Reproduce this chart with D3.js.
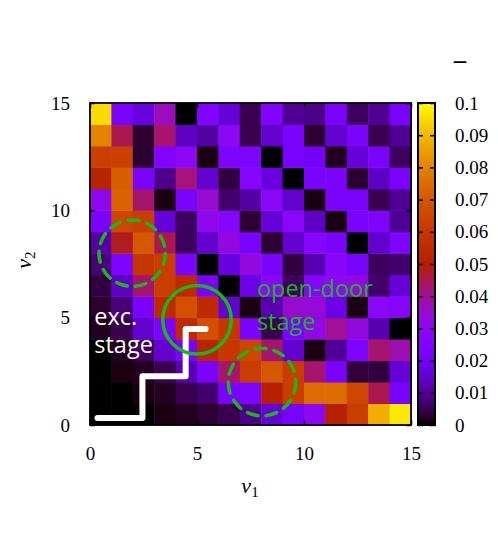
<!DOCTYPE html>
<html lang="en">
<head>
<meta charset="UTF-8">
<title>heatmap</title>
<script src="https://d3js.org/d3.v7.min.js"></script>
<style>
  body { margin: 0; background: #fff; }
  .tick text { font-family: "Liberation Serif", serif; font-size: 19px; fill: #000; }
</style>
</head>
<body>
<div id="chart"></div>
<script>
// grid values, one row per nu2 (bottom row first), one column per nu1
var nu1 = d3.range(15);
var nu2 = d3.range(15);
var density = [
  [0.000,0.000,0.000,0.001,0.002,0.003,0.005,0.009,0.016,0.022,0.030,0.050,0.062,0.088,0.097],
  [0.000,0.000,0.001,0.002,0.005,0.007,0.023,0.024,0.050,0.062,0.075,0.075,0.065,0.045,0.023],
  [0.000,0.001,0.002,0.005,0.012,0.023,0.043,0.062,0.070,0.062,0.043,0.023,0.004,0.004,0.016],
  [0.000,0.002,0.006,0.015,0.023,0.052,0.060,0.065,0.043,0.015,0.001,0.010,0.024,0.043,0.038],
  [0.002,0.005,0.015,0.023,0.055,0.068,0.060,0.023,0.005,0.023,0.032,0.040,0.033,0.012,0.000],
  [0.003,0.008,0.023,0.055,0.068,0.055,0.015,0.001,0.012,0.035,0.034,0.018,0.001,0.029,0.027],
  [0.004,0.014,0.043,0.062,0.055,0.023,0.000,0.018,0.029,0.006,0.027,0.030,0.033,0.007,0.016],
  [0.008,0.024,0.060,0.062,0.023,0.000,0.017,0.033,0.023,0.004,0.012,0.028,0.023,0.006,0.007],
  [0.011,0.048,0.070,0.045,0.006,0.015,0.033,0.023,0.003,0.015,0.027,0.023,0.000,0.015,0.024],
  [0.023,0.065,0.062,0.016,0.006,0.031,0.027,0.003,0.016,0.029,0.014,0.001,0.023,0.024,0.010],
  [0.031,0.073,0.043,0.001,0.023,0.035,0.007,0.011,0.029,0.015,0.001,0.023,0.023,0.005,0.010],
  [0.052,0.072,0.023,0.009,0.042,0.015,0.004,0.027,0.017,0.000,0.023,0.023,0.003,0.014,0.023],
  [0.063,0.063,0.003,0.025,0.030,0.001,0.024,0.024,0.000,0.023,0.021,0.002,0.016,0.023,0.006],
  [0.080,0.045,0.003,0.043,0.014,0.011,0.030,0.005,0.015,0.023,0.003,0.015,0.023,0.005,0.010],
  [0.095,0.023,0.017,0.037,0.000,0.025,0.016,0.005,0.025,0.010,0.009,0.023,0.006,0.010,0.023]
];
var axisTicks = [0, 5, 10, 15];
var cbTicks = d3.range(0, 0.1001, 0.01);

// annotations (data coordinates)
var stairs = [[0.35,0.33],[2.45,0.33],[2.45,2.27],[4.47,2.27],[4.47,4.47],[5.4,4.47]];
var circles = [
  {cx: 5, cy: 4.9, r: 1.6, dashed: false},
  {cx: 1.97, cy: 8.0, r: 1.55, dashed: true},
  {cx: 8.04, cy: 2.0, r: 1.58, dashed: true}
];
var labels = [
  {text: "exc.", x: 0.2, y: 4.67, color: "#fff"},
  {text: "stage", x: 0.2, y: 3.36, color: "#fff"},
  {text: "open-door", x: 7.8, y: 5.98, color: "#18b818"},
  {text: "stage", x: 7.8, y: 4.44, color: "#18b818"}
];

var W = 498, H = 550;
var svg = d3.select("#chart").append("svg")
    .attr("width", W).attr("height", H);

var x = d3.scaleLinear().domain([0, 15]).range([90, 411]);
var y = d3.scaleLinear().domain([0, 15]).range([425, 103]);

// gnuplot default palette (rgbformulae 7,5,15)
function pal(t) {
  t = Math.max(0, Math.min(1, t));
  var r = Math.sqrt(t), g = t * t * t, b = Math.max(0, Math.sin(2 * Math.PI * t));
  return d3.rgb(255 * r, 255 * g, 255 * b).toString();
}
var color = d3.scaleSequential(pal).domain([0, 0.1]);

var cells = [];
density.forEach(function(row, j) {
  row.forEach(function(v, i) { cells.push({i: nu1[i], j: nu2[j], v: v}); });
});

svg.append("g").selectAll("rect")
  .data(cells)
  .enter().append("rect")
    .attr("x", d => x(d.i))
    .attr("y", d => y(d.j + 1))
    .attr("width", x(1) - x(0) + 0.5)
    .attr("height", y(0) - y(1) + 0.5)
    .attr("fill", d => color(d.v));

// axes with inward ticks
svg.append("g").attr("transform", "translate(0,425)")
  .call(d3.axisBottom(x).tickValues(axisTicks).tickSize(-5).tickPadding(22));
svg.append("g").attr("transform", "translate(0,103)")
  .call(d3.axisTop(x).tickValues(axisTicks).tickSize(-5).tickFormat(""));
svg.append("g").attr("transform", "translate(90,0)")
  .call(d3.axisLeft(y).tickValues(axisTicks).tickSize(-5).tickPadding(20));
svg.append("g").attr("transform", "translate(411,0)")
  .call(d3.axisRight(y).tickValues(axisTicks).tickSize(-5).tickFormat(""));

svg.append("rect")
  .attr("x", 90).attr("y", 103).attr("width", 321).attr("height", 322)
  .attr("fill", "none").attr("stroke", "#000").attr("stroke-width", 1.8);

// annotations
var line = d3.line().x(d => x(d[0])).y(d => y(d[1]));
svg.append("path")
  .datum(stairs)
  .attr("d", line)
  .attr("fill", "none")
  .attr("stroke", "#fff")
  .attr("stroke-width", 6)
  .attr("stroke-linecap", "round")
  .attr("stroke-linejoin", "round");

svg.append("g").selectAll("circle")
  .data(circles)
  .enter().append("circle")
    .attr("cx", d => x(d.cx))
    .attr("cy", d => y(d.cy))
    .attr("r", d => x(d.r) - x(0))
    .attr("fill", "none")
    .attr("stroke", "#18b818")
    .attr("stroke-width", 3.5)
    .attr("stroke-dasharray", d => d.dashed ? "11,8" : null)
    .attr("stroke-linecap", "round");

svg.append("g").selectAll("text")
  .data(labels)
  .enter().append("text")
    .attr("x", d => x(d.x))
    .attr("y", d => y(d.y))
    .attr("fill", d => d.color)
    .style("font-family", "'Open Sans', sans-serif")
    .style("font-size", "23.5px")
    .text(d => d.text);

// colorbar
var cb = d3.scaleLinear().domain([0, 0.1]).range([425, 103]);
var grad = svg.append("defs").append("linearGradient")
  .attr("id", "cbgrad")
  .attr("x1", 0).attr("y1", 1).attr("x2", 0).attr("y2", 0);
grad.selectAll("stop")
  .data(d3.range(0, 1.0001, 0.02))
  .enter().append("stop")
    .attr("offset", d => d)
    .attr("stop-color", d => pal(d));

svg.append("rect")
  .attr("x", 418).attr("y", 103).attr("width", 17).attr("height", 322)
  .attr("fill", "url(#cbgrad)")
  .attr("stroke", "#000").attr("stroke-width", 2);

svg.append("g").attr("transform", "translate(435,0)")
  .call(d3.axisRight(cb).tickValues(cbTicks).tickSize(-5).tickPadding(20)
    .tickFormat(d => String(+d.toFixed(2))));
svg.append("g").attr("transform", "translate(418,0)")
  .call(d3.axisLeft(cb).tickValues(cbTicks).tickSize(-5).tickFormat(""));
svg.selectAll(".domain").remove();
svg.selectAll(".tick line").attr("stroke", "#000").attr("stroke-width", 1.5);

svg.append("text")
  .attr("x", 460).attr("y", 66)
  .attr("text-anchor", "middle")
  .style("font-family", "'DejaVu Sans', sans-serif")
  .style("font-size", "14px")
  .style("font-weight", "bold")
  .text("\u2014");

// axis titles
var xt = svg.append("text")
  .attr("x", 250).attr("y", 493)
  .attr("text-anchor", "middle")
  .style("font-family", "'Liberation Serif', serif")
  .style("font-size", "22px");
xt.append("tspan").style("font-style", "italic").text("\u03bd");
xt.append("tspan").attr("dy", 4).style("font-size", "15px").text("1");

var yt = svg.append("text")
  .attr("transform", "translate(31,260) rotate(-90)")
  .attr("text-anchor", "middle")
  .style("font-family", "'Liberation Serif', serif")
  .style("font-size", "22px");
yt.append("tspan").style("font-style", "italic").text("\u03bd");
yt.append("tspan").attr("dy", 4).style("font-size", "15px").text("2");
</script>
</body>
</html>
